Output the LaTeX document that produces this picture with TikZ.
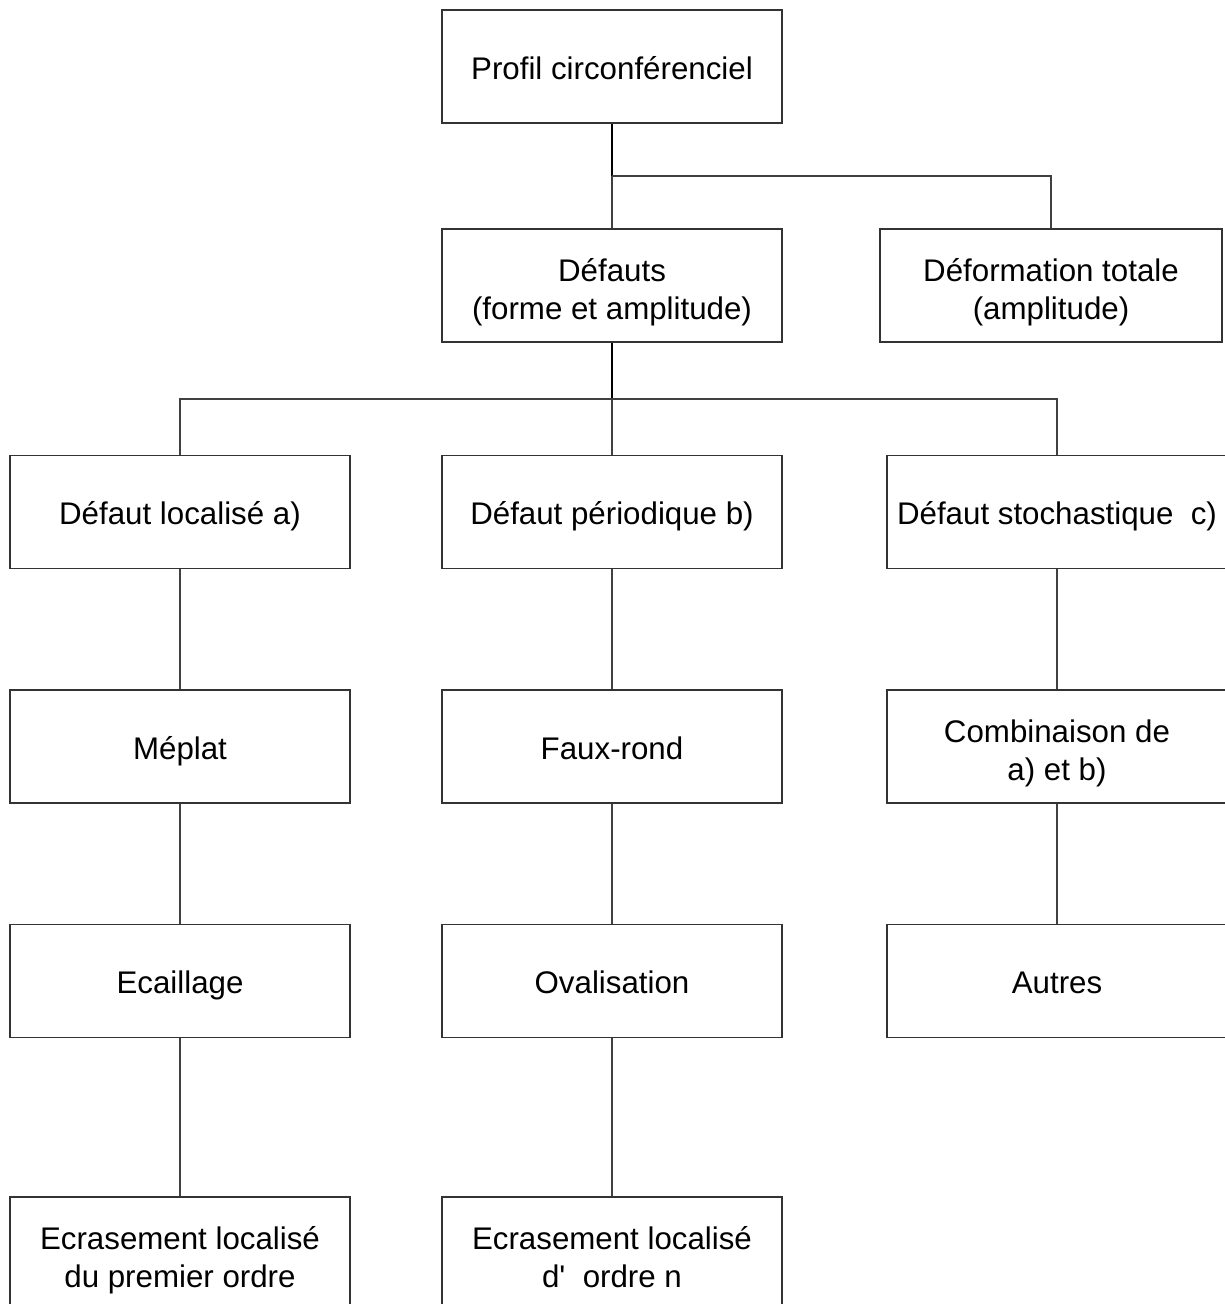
\documentclass[tikz,border=0pt]{standalone}
\usepackage{fontspec}
\setmainfont{Liberation Sans}
\usepackage{tikz}
\newcommand{\topstrut}{\rule{0pt}{1.3em}}
\newcommand{\twoline}[2]{\topstrut#1\\#2\strut}

\begin{document}
\begin{tikzpicture}[
    box/.style={draw=black!80, line width=0.45pt, minimum width=3.4cm, minimum height=1.13cm,
      inner sep=0pt, align=center, font=\fontsize{8.9}{10.8}\selectfont},
    onebox/.style={box, text height=0.92em, text depth=0.2em},
    link/.style={draw=black!75, line width=0.3pt},
    trunk/.style={draw=black, line width=0.5pt}]
    \useasboundingbox (0,0) rectangle (12.25,-13.04);
    \node[onebox] (prof) at (6.12,-0.665) {Profil circonférenciel};
    \node[box] (defauts) at (6.12,-2.855) {\twoline{Défauts}{(forme et amplitude)}};
    \node[box, minimum width=3.42cm] (deform) at (10.51,-2.855) {\twoline{Déformation totale}{(amplitude)}};
    \node[onebox] (loc) at (1.80,-5.12) {Défaut localisé a)};
    \node[onebox] (per) at (6.12,-5.12) {Défaut périodique b)};
    \node[onebox] (stoch) at (10.57,-5.12) {Défaut stochastique\ \ c)};
    \node[onebox] (meplat) at (1.80,-7.465) {Méplat};
    \node[onebox] (faux) at (6.12,-7.465) {Faux-rond};
    \node[box] (comb) at (10.57,-7.465) {\twoline{Combinaison de}{a) et b)}};
    \node[onebox] (ecaill) at (1.80,-9.81) {Ecaillage};
    \node[onebox] (oval) at (6.12,-9.81) {Ovalisation};
    \node[onebox] (autres) at (10.57,-9.81) {Autres};
    \node[box] (ecrasa) at (1.80,-12.535) {\twoline{Ecrasement localisé}{du premier ordre}};
    \node[box] (ecrasn) at (6.12,-12.535) {\twoline{Ecrasement localisé}{d\textquotesingle\ \ ordre n}};
    \coordinate (busa) at (6.12,-1.76);
    \coordinate (busb) at (6.12,-3.99);
    \draw[trunk] (prof.south) -- (busa);
    \draw[link] (busa) -- (defauts.north);
    \draw[link] (busa) -| (deform.north);
    \draw[trunk] (defauts.south) -- (busb);
    \draw[link] (loc.north) |- (busb) -| (stoch.north);
    \draw[link] (busb) -- (per.north);
    \draw[link] (loc) -- (meplat) -- (ecaill) -- (ecrasa);
    \draw[link] (per) -- (faux) -- (oval) -- (ecrasn);
    \draw[link] (stoch) -- (comb) -- (autres);
\end{tikzpicture}
\end{document}
